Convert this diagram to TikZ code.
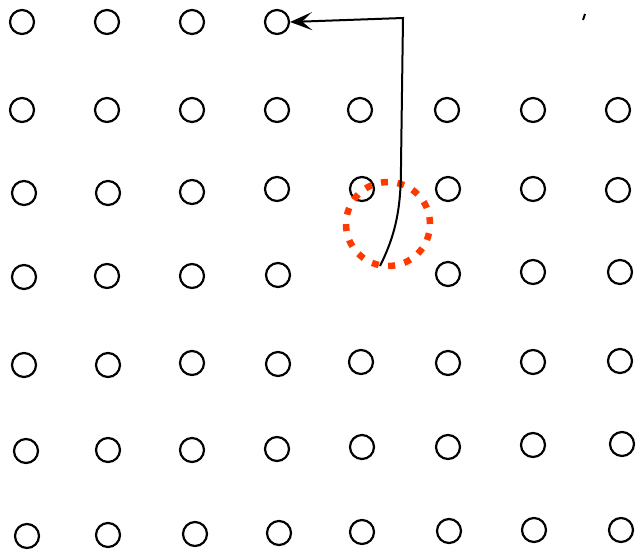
\documentclass[tikz,border=0pt]{standalone}
\usetikzlibrary{arrows.meta}
\definecolor{dotred}{RGB}{255,58,0}
\begin{document}
\begin{tikzpicture}[x=1pt,y=-1pt,
  dot/.style={circle,draw=black,line width=2.2pt,minimum size=24pt,inner sep=0pt},
  conn/.style={line width=2pt,-{Stealth[length=22pt,width=18pt,inset=10pt]}},
  ring/.style={draw=dotred,line width=6.5pt,dash pattern=on 7pt off 9.5pt}]
\useasboundingbox[fill=white] (0,0) rectangle (639,554);
% row 1
\foreach \x/\n in {22/a1,107/a2,192/a3,277/a4} \node[dot] (\n) at (\x,22) {};
% row 2
\foreach \x/\n in {22/b1,107/b2,192/b3,277/b4,360/b5,447/b6,533/b7,618/b8} \node[dot] (\n) at (\x,110) {};
% row 3
\foreach \x/\y/\n in {24/193/c1,108/193/c2,192/192/c3,277/189/c4,362/189/c5,448/189/c6,533/189/c7,618/190/c8} \node[dot] (\n) at (\x,\y) {};
% row 4
\foreach \x/\y/\n in {24/277/d1,107/276/d2,192/276/d3,278/275/d4,448/274/d6,533/272/d7,620/272/d8} \node[dot] (\n) at (\x,\y) {};
% row 5
\foreach \x/\y/\n in {24/365/e1,108/365/e2,192/363/e3,278/364/e4,361/362/e5,448/363/e6,533/362/e7,620/361/e8} \node[dot] (\n) at (\x,\y) {};
% row 6
\foreach \x/\y/\n in {26/451/f1,108/450/f2,192/450/f3,277/449/f4,362/447/f5,448/447/f6,533/445/f7,622/444/f8} \node[dot] (\n) at (\x,\y) {};
% row 7
\foreach \x/\y/\n in {27/536/g1,108/535/g2,195/534/g3,279/533/g4,362/532/g5,449/531/g6,534/530/g7,621/530/g8} \node[dot] (\n) at (\x,\y) {};
% dotted red ring
\node[circle,minimum size=84pt,inner sep=0pt] (ring) at (388,224) {};
\draw[ring] (ring.center) circle[radius=42pt];
% connector
\coordinate (start) at (380,266);
\coordinate (corner) at (403,18);
\draw[conn] (start) .. controls (397,232) and (401,205) .. (401,165) -- (corner) -- (a4.east);
% small mark
\draw[line width=2pt] (585,14) -- (583,20);
\end{tikzpicture}
\end{document}
